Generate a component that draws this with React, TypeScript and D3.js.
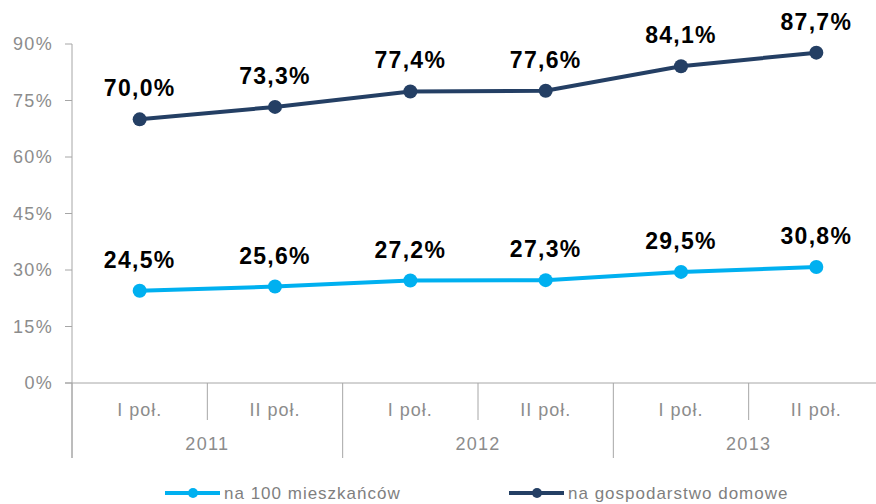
import React, { useEffect, useRef } from 'react';
import * as d3 from 'd3';

const periods = ['I poł.', 'II poł.', 'I poł.', 'II poł.', 'I poł.', 'II poł.'];
const years = ['2011', '2012', '2013'];
const perResidents = [24.5, 25.6, 27.2, 27.3, 29.5, 30.8];
const perHousehold = [70.0, 73.3, 77.4, 77.6, 84.1, 87.7];
const yTicks = [0, 15, 30, 45, 60, 75, 90];

const series = [
  { name: 'na 100 mieszkańców', values: perResidents, color: '#00b0f0' },
  { name: 'na gospodarstwo domowe', values: perHousehold, color: '#243f64' },
];

const fmt = (v: number) => v.toFixed(1).replace('.', ',') + '%';

const App = () => {
  const ref = useRef<SVGSVGElement | null>(null);

  useEffect(() => {
    if (!ref.current) return;
    const svg = d3.select(ref.current);
    svg.selectAll('*').remove();

    const width = 876;
    const left = 72;
    const right = 884;
    const axisY = 383;
    const axisColor = '#a6a6a6';
    const font = 'Arial, "Liberation Sans", sans-serif';

    const x = d3.scaleBand<number>()
      .domain(periods.map((_, i) => i))
      .range([left, right])
      .padding(0);
    const cx = (i: number) => (x(i) as number) + x.bandwidth() / 2;

    const y = d3.scaleLinear().domain([0, 90]).range([axisY, 44]);

    // y axis
    svg.append('line')
      .attr('x1', left).attr('x2', left)
      .attr('y1', y(90)).attr('y2', 458)
      .attr('stroke', axisColor);

    const yt = svg.append('g');
    yTicks.forEach((t) => {
      yt.append('line')
        .attr('x1', left - 7).attr('x2', left)
        .attr('y1', y(t)).attr('y2', y(t))
        .attr('stroke', axisColor);
      yt.append('text')
        .attr('x', 53).attr('y', y(t))
        .attr('dy', '0.36em')
        .attr('text-anchor', 'end')
        .attr('font-family', font)
        .attr('font-size', 18)
        .attr('letter-spacing', 1.3)
        .attr('fill', '#8c8c8c')
        .text(`${t}%`);
    });

    // x axis
    svg.append('line')
      .attr('x1', left - 7).attr('x2', width)
      .attr('y1', axisY).attr('y2', axisY)
      .attr('stroke', axisColor);

    d3.range(periods.length + 1).forEach((i) => {
      const bx = left + i * x.bandwidth();
      svg.append('line')
        .attr('x1', bx).attr('x2', bx)
        .attr('y1', axisY).attr('y2', i % 2 === 0 ? 458 : 420)
        .attr('stroke', axisColor);
    });

    periods.forEach((p, i) => {
      svg.append('text')
        .attr('x', cx(i)).attr('y', 410)
        .attr('dy', '0.36em')
        .attr('text-anchor', 'middle')
        .attr('font-family', font)
        .attr('font-size', 18)
        .attr('letter-spacing', 1)
        .attr('fill', '#8c8c8c')
        .text(p);
    });

    years.forEach((yr, j) => {
      svg.append('text')
        .attr('x', left + (j * 2 + 1) * x.bandwidth()).attr('y', 444)
        .attr('dy', '0.36em')
        .attr('text-anchor', 'middle')
        .attr('font-family', font)
        .attr('font-size', 18)
        .attr('letter-spacing', 1.3)
        .attr('fill', '#8c8c8c')
        .text(yr);
    });

    // series
    const line = d3.line<number>()
      .x((_, i) => cx(i))
      .y((d) => y(d));

    series.forEach((s) => {
      const g = svg.append('g');
      g.append('path')
        .datum(s.values)
        .attr('fill', 'none')
        .attr('stroke', s.color)
        .attr('stroke-width', 4)
        .attr('d', line);
      g.selectAll('circle')
        .data(s.values)
        .enter().append('circle')
        .attr('cx', (_, i) => cx(i))
        .attr('cy', (d) => y(d))
        .attr('r', 7)
        .attr('fill', s.color);
      g.selectAll('text')
        .data(s.values)
        .enter().append('text')
        .attr('x', (_, i) => cx(i))
        .attr('y', (d) => y(d) - 23)
        .attr('text-anchor', 'middle')
        .attr('font-family', font)
        .attr('font-size', 23)
        .attr('font-weight', 'bold')
        .attr('letter-spacing', 1.3)
        .attr('fill', '#000')
        .text((d) => fmt(d));
    });

    // legend (lifted a little so descenders stay inside the frame)
    const legendX = [165, 509];
    const legendY = 493;
    series.forEach((s, i) => {
      const lx = legendX[i];
      const lg = svg.append('g');
      lg.append('line')
        .attr('x1', lx).attr('x2', lx + 55)
        .attr('y1', legendY).attr('y2', legendY)
        .attr('stroke', s.color)
        .attr('stroke-width', 4);
      lg.append('circle')
        .attr('cx', lx + 28).attr('cy', legendY)
        .attr('r', 5)
        .attr('fill', s.color);
      lg.append('text')
        .attr('x', lx + 59).attr('y', legendY + 6)
        .attr('font-family', font)
        .attr('font-size', 17)
        .attr('letter-spacing', 1)
        .attr('fill', '#7f7f7f')
        .text(s.name);
    });
  }, []);

  return (
    <svg
      ref={ref}
      width={876}
      height={504}
      style={{ position: 'absolute', left: 0, top: 0, background: '#fff' }}
    />
  );
};

export default App;
